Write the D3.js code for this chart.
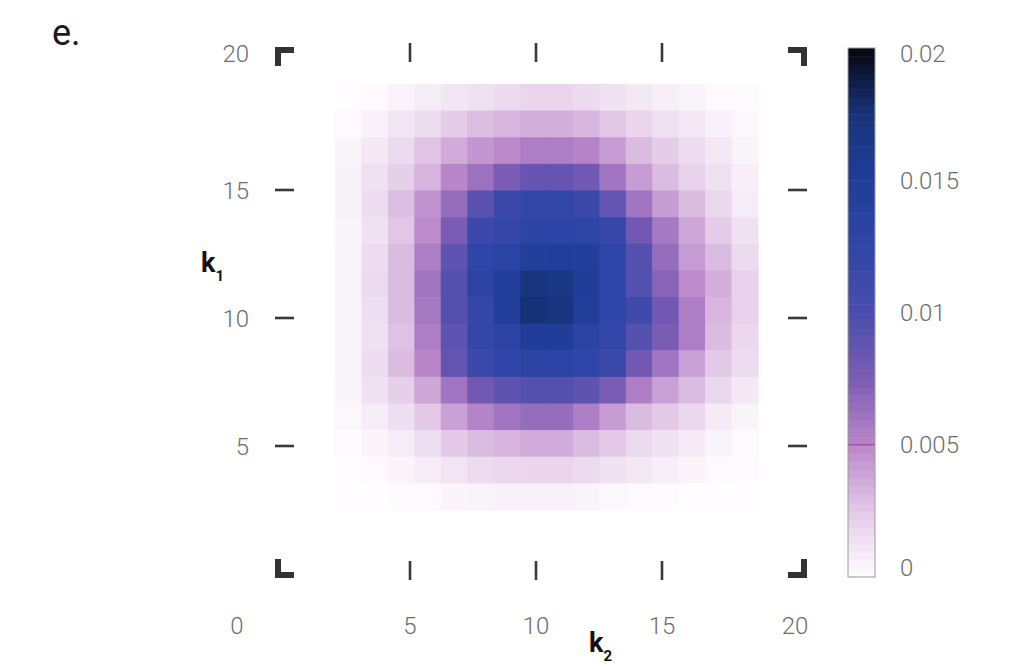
<!DOCTYPE html>
<html>
<head>
<meta charset="utf-8">
<script src="https://cdn.jsdelivr.net/npm/d3@7"></script>
<style>
  html, body { margin: 0; padding: 0; background: #fff; }
  text { font-family: "Roboto", "Liberation Sans", sans-serif; }
</style>
</head>
<body>
<svg id="chart" width="1024" height="669"></svg>
<script>
// Joint probability over (k1, k2): one row per k1 bin (top to bottom), one column per k2 bin.
const prob = [
  [0, 0.0002, 0.0005, 0.0008, 0.0011, 0.0014, 0.0017, 0.0019, 0.0019, 0.0017, 0.0013, 0.0010, 0.0007, 0.0005, 0.0002, 0.0001],
  [0.0002, 0.0006, 0.0011, 0.0016, 0.0023, 0.0029, 0.0032, 0.0035, 0.0035, 0.0032, 0.0026, 0.0019, 0.0014, 0.0010, 0.0006, 0.0003],
  [0.0005, 0.0010, 0.0017, 0.0027, 0.0036, 0.0044, 0.0049, 0.0055, 0.0055, 0.0052, 0.0042, 0.0030, 0.0023, 0.0016, 0.0010, 0.0005],
  [0.0006, 0.0014, 0.0022, 0.0033, 0.0050, 0.0062, 0.0075, 0.0086, 0.0086, 0.0080, 0.0060, 0.0042, 0.0030, 0.0020, 0.0014, 0.0007],
  [0.0006, 0.0016, 0.0029, 0.0045, 0.0065, 0.0092, 0.0115, 0.0122, 0.0122, 0.0115, 0.0088, 0.0060, 0.0042, 0.0030, 0.0018, 0.0008],
  [0.0004, 0.0013, 0.0026, 0.0048, 0.0075, 0.0112, 0.0120, 0.0128, 0.0128, 0.0126, 0.0118, 0.0080, 0.0058, 0.0038, 0.0024, 0.0013],
  [0.0005, 0.0016, 0.0030, 0.0055, 0.0090, 0.0125, 0.0132, 0.0145, 0.0148, 0.0145, 0.0125, 0.0095, 0.0065, 0.0042, 0.0030, 0.0017],
  [0.0005, 0.0017, 0.0030, 0.0060, 0.0095, 0.0130, 0.0145, 0.0170, 0.0165, 0.0150, 0.0125, 0.0095, 0.0070, 0.0048, 0.0035, 0.0020],
  [0.0005, 0.0015, 0.0030, 0.0058, 0.0095, 0.0120, 0.0145, 0.0176, 0.0170, 0.0148, 0.0125, 0.0110, 0.0080, 0.0055, 0.0032, 0.0020],
  [0.0005, 0.0014, 0.0028, 0.0055, 0.0090, 0.0120, 0.0130, 0.0150, 0.0150, 0.0130, 0.0120, 0.0095, 0.0075, 0.0055, 0.0030, 0.0018],
  [0.0005, 0.0016, 0.0030, 0.0050, 0.0088, 0.0115, 0.0125, 0.0130, 0.0130, 0.0125, 0.0115, 0.0080, 0.0060, 0.0040, 0.0025, 0.0016],
  [0.0004, 0.0013, 0.0022, 0.0038, 0.0060, 0.0080, 0.0090, 0.0095, 0.0095, 0.0090, 0.0075, 0.0055, 0.0040, 0.0030, 0.0018, 0.0010],
  [0.0003, 0.0008, 0.0015, 0.0025, 0.0040, 0.0052, 0.0060, 0.0065, 0.0065, 0.0055, 0.0042, 0.0030, 0.0025, 0.0018, 0.0009, 0.0005],
  [0.0001, 0.0004, 0.0008, 0.0015, 0.0025, 0.0030, 0.0033, 0.0036, 0.0036, 0.0030, 0.0025, 0.0017, 0.0013, 0.0009, 0.0005, 0.0002],
  [0, 0.0002, 0.0004, 0.0008, 0.0012, 0.0016, 0.0018, 0.0019, 0.0019, 0.0017, 0.0013, 0.0010, 0.0007, 0.0004, 0.0002, 0.0001],
  [0, 0, 0.0001, 0.0002, 0.0004, 0.0005, 0.0006, 0.0006, 0.0006, 0.0005, 0.0003, 0.0002, 0.0001, 0, 0, 0]
];

// Axis ticks and labels
const k2Ticks = [5, 10, 15, 20];
const k1Ticks = [20, 15, 10, 5];
const innerTicks = [5, 10, 15];
const originLabel = "0";

// Colour bar ticks and colour map stops
const cbarTicks = [0, 0.005, 0.01, 0.015, 0.02];
const cbarTickLabels = ["0", "0.005", "0.01", "0.015", "0.02"];
const colorStops = [0, 0.0025, 0.005, 0.0075, 0.01, 0.0125, 0.015, 0.0175, 0.02];
const colorRamp = ["#fffdff", "#e3c9e7", "#ba86ca", "#7b5cb4", "#4a4dad", "#2f45a7", "#1f3d99", "#17337a", "#06060e"];

const svg = d3.select("#chart");
svg.append("rect").attr("width", 1024).attr("height", 669).attr("fill", "#fff");

// Frame of the map panel
const box = { left: 275, right: 807, top: 47, bottom: 578 };
const x = d3.scaleLinear().domain([0, 20]).range([284, 788]);
const y = d3.scaleLinear().domain([0, 20]).range([574, 62]);

// Heatmap grid
const nRows = prob.length, nCols = prob[0].length;
const colBand = d3.scaleBand().domain(d3.range(nCols)).range([335, 758]);
const rowBand = d3.scaleBand().domain(d3.range(nRows)).range([84, 510]);
const color = d3.scaleLinear().domain(colorStops).range(colorRamp).interpolate(d3.interpolateRgb).clamp(true);

const cells = [];
prob.forEach((row, r) => row.forEach((v, c) => cells.push({ r, c, v })));
svg.append("g").selectAll("rect").data(cells).join("rect")
  .attr("x", d => colBand(d.c))
  .attr("y", d => rowBand(d.r))
  .attr("width", colBand.bandwidth() + 0.6)
  .attr("height", rowBand.bandwidth() + 0.6)
  .attr("fill", d => color(d.v));

// Corner brackets
const ink = "#333";
const sw = 6, arm = 16, h = sw / 2;
const corners = [
  `M${box.left + h},${box.top + arm + h}V${box.top + h}H${box.left + arm + h}`,
  `M${box.right - arm - h},${box.top + h}H${box.right - h}V${box.top + arm + h}`,
  `M${box.left + h},${box.bottom - arm - h}V${box.bottom - h}H${box.left + arm + h}`,
  `M${box.right - arm - h},${box.bottom - h}H${box.right - h}V${box.bottom - arm - h}`
];
svg.append("g").selectAll("path").data(corners).join("path")
  .attr("d", d => d).attr("fill", "none").attr("stroke", ink)
  .attr("stroke-width", sw).attr("stroke-linejoin", "miter");

// Inner ticks on all four sides
const tickLen = 19;
const tg = svg.append("g").attr("stroke", "#3a3a3a").attr("stroke-width", 2.6);
innerTicks.forEach(v => {
  tg.append("line").attr("x1", x(v)).attr("x2", x(v)).attr("y1", box.top - 4).attr("y2", box.top - 4 + tickLen);
  tg.append("line").attr("x1", x(v)).attr("x2", x(v)).attr("y1", box.bottom + 2 - tickLen).attr("y2", box.bottom + 2);
  tg.append("line").attr("y1", y(v)).attr("y2", y(v)).attr("x1", box.left).attr("x2", box.left + tickLen);
  tg.append("line").attr("y1", y(v)).attr("y2", y(v)).attr("x1", box.right - tickLen).attr("x2", box.right);
});

// Tick labels; the end labels sit level with the frame corners
const labelColor = "#6e6e6e";
const fs = 24;
const yLabelX = 249;
const xLabelY = 625;
svg.append("g").selectAll("text").data(k1Ticks).join("text")
  .attr("x", yLabelX)
  .attr("y", d => d === 20 ? box.top + 6 : y(d))
  .attr("dy", "0.36em")
  .attr("text-anchor", "end")
  .attr("font-size", fs).attr("font-weight", 300).attr("fill", labelColor)
  .text(d => d);
svg.append("g").selectAll("text").data(k2Ticks).join("text")
  .attr("x", d => d === 20 ? box.right - 12 : x(d))
  .attr("y", xLabelY)
  .attr("dy", "0.36em")
  .attr("text-anchor", "middle")
  .attr("font-size", fs).attr("font-weight", 300).attr("fill", labelColor)
  .text(d => d);
svg.append("text")
  .attr("x", yLabelX - 12).attr("y", xLabelY).attr("dy", "0.36em")
  .attr("text-anchor", "middle")
  .attr("font-size", fs).attr("font-weight", 300).attr("fill", labelColor)
  .text(originLabel);

// Axis titles
const k1 = svg.append("text").attr("x", 201).attr("y", 272)
  .attr("font-size", 27).attr("font-weight", 700).attr("fill", "#111");
k1.append("tspan").text("k");
k1.append("tspan").attr("font-size", 15).attr("dy", 9).text("1");
const k2 = svg.append("text").attr("x", 589).attr("y", 652)
  .attr("font-size", 27).attr("font-weight", 700).attr("fill", "#111");
k2.append("tspan").text("k");
k2.append("tspan").attr("font-size", 15).attr("dy", 9).text("2");

// Panel letter
svg.append("text").attr("x", 52).attr("y", 45)
  .attr("font-size", 36).attr("fill", "#1a1a1a")
  .attr("font-family", "Liberation Sans, Arial, sans-serif")
  .text("e.");

// Colour bar
const cb = { x: 848, w: 27, top: 48, bottom: 577 };
const cy = d3.scaleLinear().domain([0, 0.02]).range([cb.bottom, cb.top]);
const nSteps = 64;
const steps = d3.range(nSteps).map(i => ({ lo: 0.02 * i / nSteps, hi: 0.02 * (i + 1) / nSteps }));
svg.append("g").selectAll("rect").data(steps).join("rect")
  .attr("x", cb.x).attr("width", cb.w)
  .attr("y", d => cy(d.hi)).attr("height", d => cy(d.lo) - cy(d.hi) + 0.5)
  .attr("fill", d => color((d.lo + d.hi) / 2));
svg.append("line")
  .attr("x1", cb.x).attr("x2", cb.x + cb.w)
  .attr("y1", cy(0.005)).attr("y2", cy(0.005))
  .attr("stroke", "#9a4a98").attr("stroke-width", 1.2);
svg.append("rect")
  .attr("x", cb.x).attr("y", cb.top).attr("width", cb.w).attr("height", cb.bottom - cb.top)
  .attr("fill", "none").attr("stroke", "#9a9a9a").attr("stroke-width", 1);
svg.append("g").selectAll("text").data(cbarTicks).join("text")
  .attr("x", 900)
  .attr("y", d => Math.min(Math.max(cy(d), cb.top + 5), cb.bottom - 10))
  .attr("dy", "0.36em")
  .attr("font-size", fs).attr("font-weight", 300).attr("fill", labelColor)
  .text((d, i) => cbarTickLabels[i]);
</script>
</body>
</html>
